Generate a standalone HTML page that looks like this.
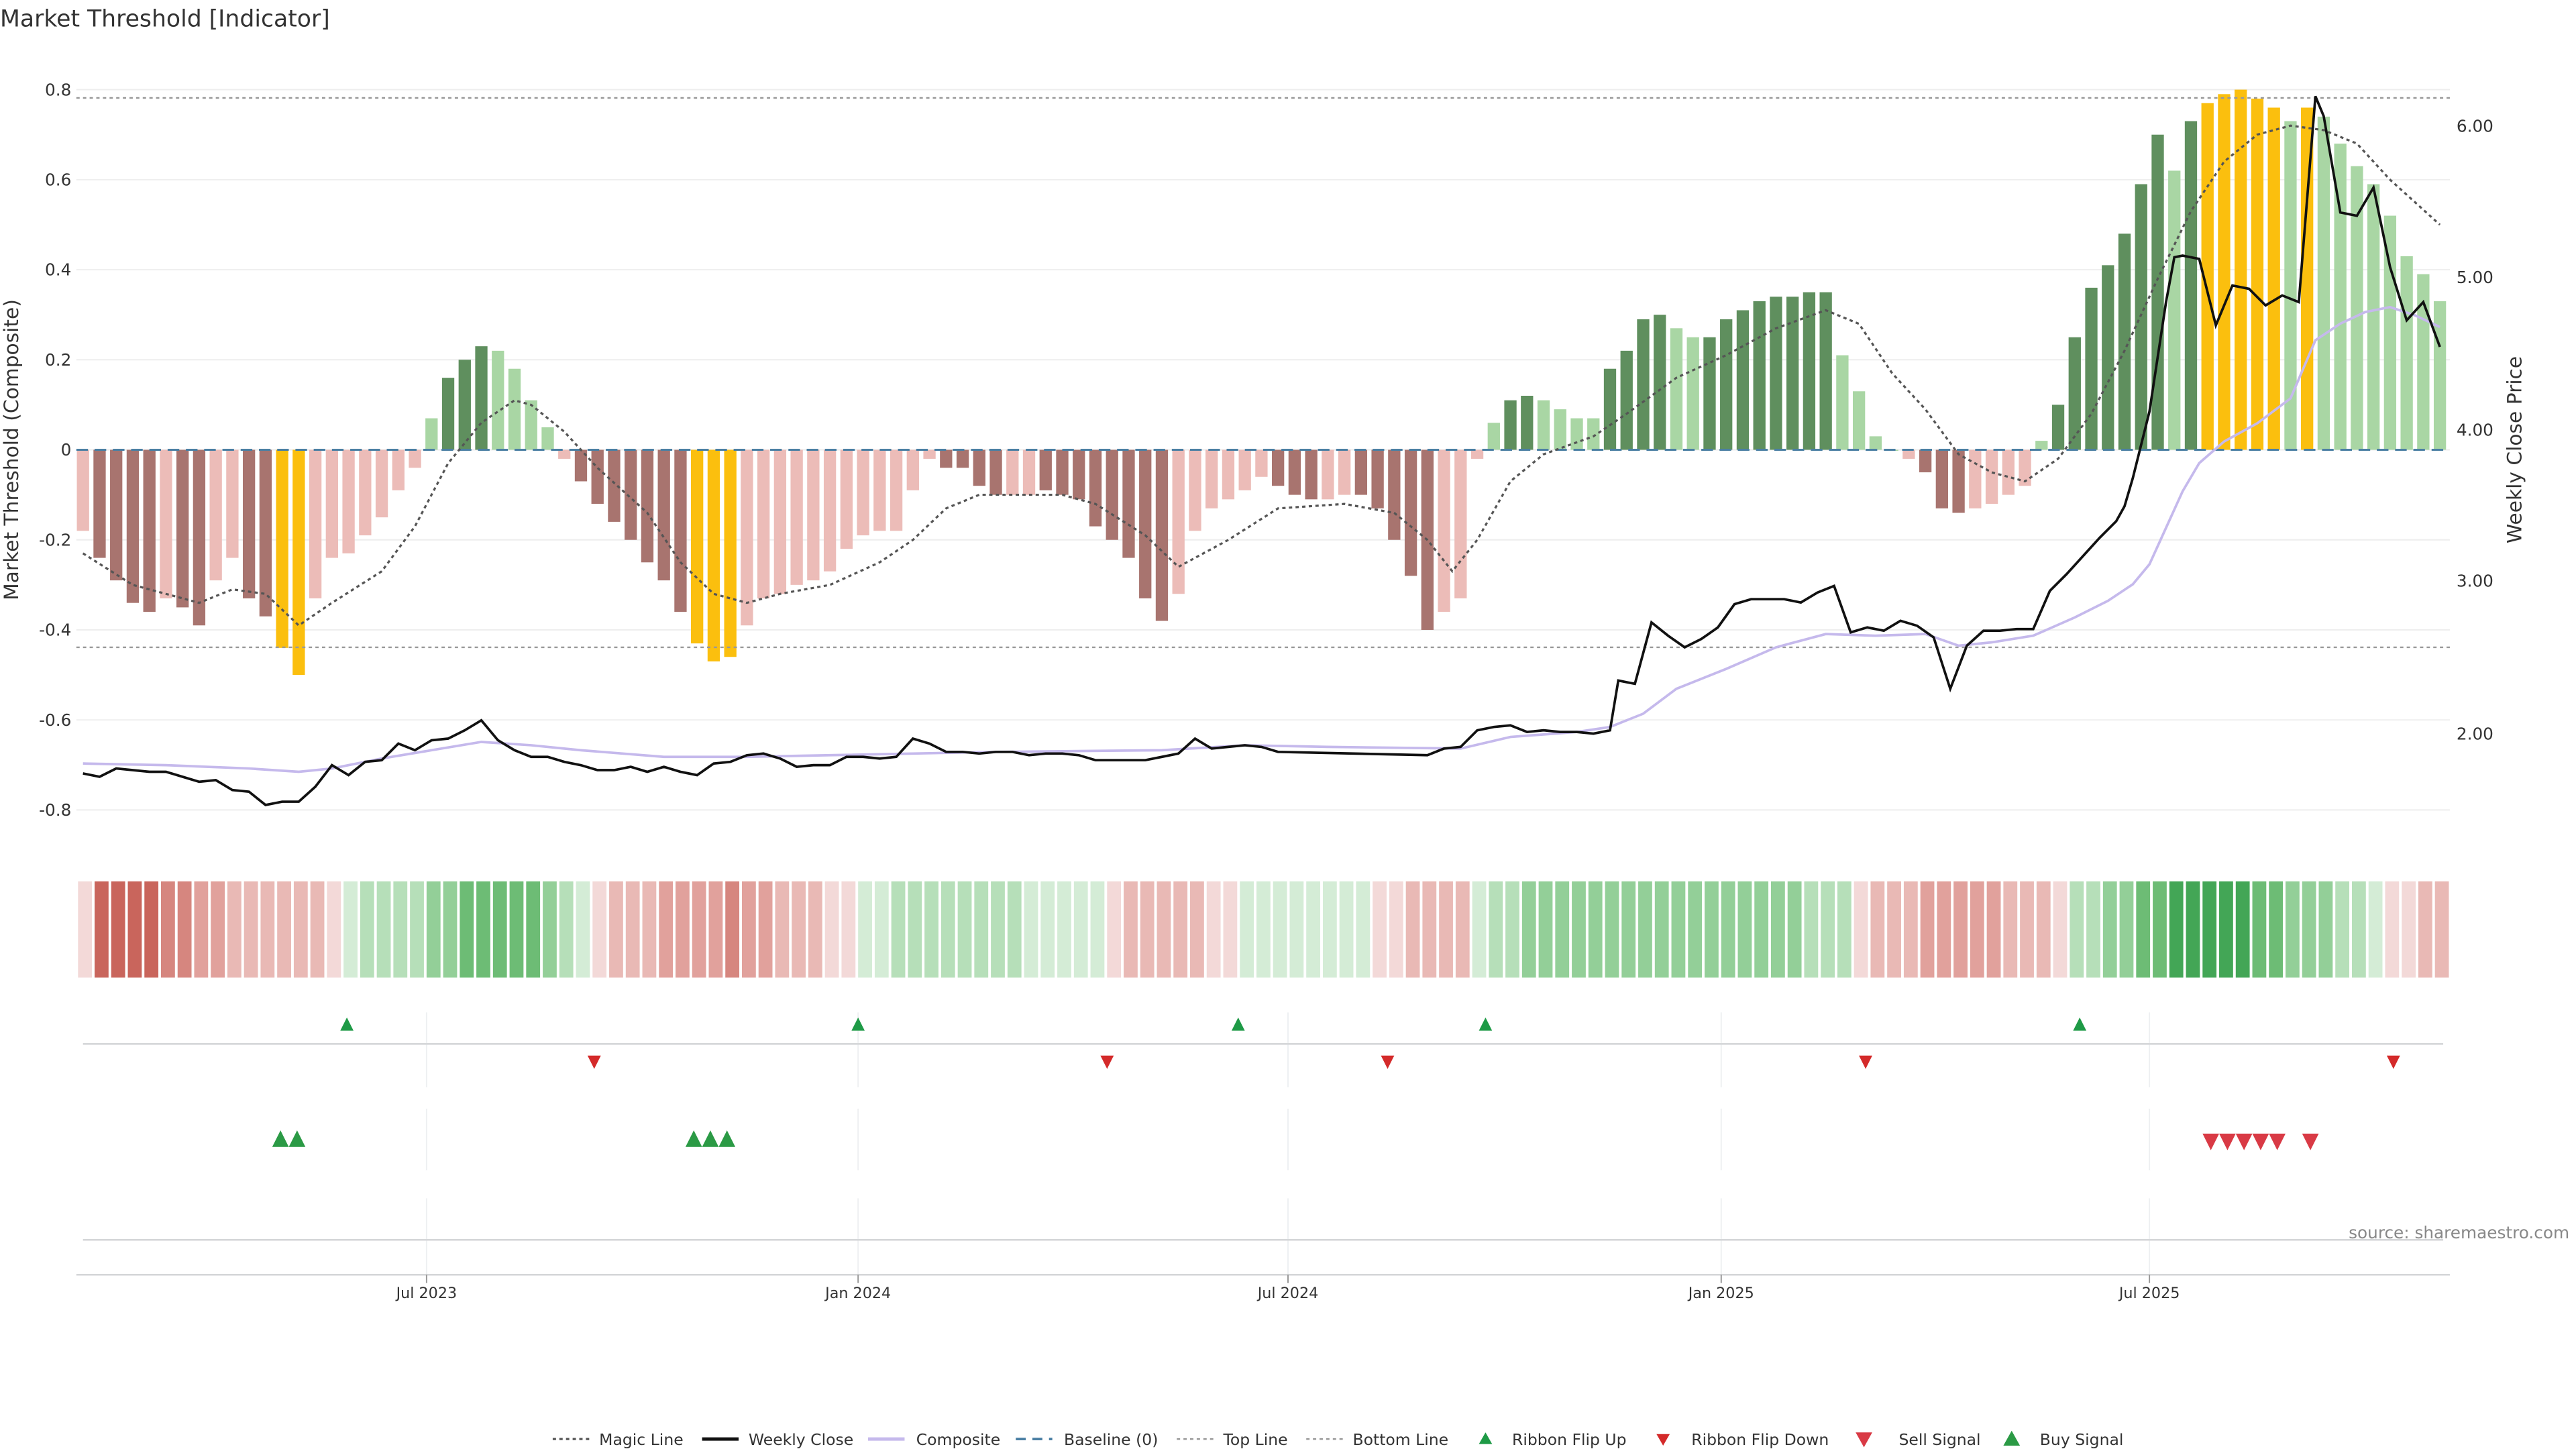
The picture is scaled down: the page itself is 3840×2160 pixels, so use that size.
<!DOCTYPE html>
<html><head><meta charset="utf-8"><style>
html,body{margin:0;padding:0;background:#fff;}
svg{display:block;}
text{font-family:"DejaVu Sans","Liberation Sans",sans-serif;}
</style></head><body>
<svg id="s" xmlns="http://www.w3.org/2000/svg" width="3840" height="2160" viewBox="0 0 1552 873">
<rect width="1552" height="873" fill="#fff"/>
<text x="0" y="16" font-size="14" fill="#333">Market Threshold [Indicator]</text>
<g id="grid"></g>
<g id="bars"></g>
<g id="lines"></g>
<g id="rib"></g>
<g id="sig"></g>
<g id="ax" font-size="10" fill="#333"></g>
<text x="1548" y="746" font-size="10" fill="#888" text-anchor="end">source: sharemaestro.com</text>
<text transform="translate(11,271) rotate(-90)" font-size="12" fill="#333" text-anchor="middle">Market Threshold (Composite)</text>
<text transform="translate(1519,271) rotate(-90)" font-size="12" fill="#333" text-anchor="middle">Weekly Close Price</text>
<g id="leg" font-size="10" fill="#333"></g>
</svg>
<script>
const NS="http://www.w3.org/2000/svg";
function el(p,t,a,txt){const e=document.createElementNS(NS,t);for(const k in a)e.setAttribute(k,a[k]);if(txt!==undefined)e.textContent=txt;document.getElementById(p).appendChild(e);return e;}
const Y=v=>271-v*271.25;
const bars=[[-0.18,'L'],[-0.24,'D'],[-0.29,'D'],[-0.34,'D'],[-0.36,'D'],[-0.33,'L'],[-0.35,'D'],[-0.39,'D'],[-0.29,'L'],[-0.24,'L'],[-0.33,'D'],[-0.37,'D'],[-0.44,'Y'],[-0.50,'Y'],[-0.33,'L'],[-0.24,'L'],[-0.23,'L'],[-0.19,'L'],[-0.15,'L'],[-0.09,'L'],[-0.04,'L'],
[0.07,'L'],[0.16,'D'],[0.20,'D'],[0.23,'D'],[0.22,'L'],[0.18,'L'],[0.11,'L'],[0.05,'L'],
[-0.02,'L'],[-0.07,'D'],[-0.12,'D'],[-0.16,'D'],[-0.20,'D'],[-0.25,'D'],[-0.29,'D'],[-0.36,'D'],[-0.43,'Y'],[-0.47,'Y'],[-0.46,'Y'],[-0.39,'L'],[-0.33,'L'],[-0.32,'L'],[-0.30,'L'],[-0.29,'L'],[-0.27,'L'],[-0.22,'L'],[-0.19,'L'],[-0.18,'L'],[-0.18,'L'],[-0.09,'L'],[-0.02,'L'],[-0.04,'D'],[-0.04,'D'],[-0.08,'D'],[-0.10,'D'],[-0.10,'L'],[-0.10,'L'],[-0.09,'D'],[-0.10,'D'],[-0.11,'D'],[-0.17,'D'],[-0.20,'D'],[-0.24,'D'],[-0.33,'D'],[-0.38,'D'],[-0.32,'L'],[-0.18,'L'],[-0.13,'L'],[-0.11,'L'],[-0.09,'L'],[-0.06,'L'],[-0.08,'D'],[-0.10,'D'],[-0.11,'D'],[-0.11,'L'],[-0.10,'L'],[-0.10,'D'],[-0.13,'D'],[-0.20,'D'],[-0.28,'D'],[-0.40,'D'],[-0.36,'L'],[-0.33,'L'],[-0.02,'L'],
[0.06,'L'],[0.11,'D'],[0.12,'D'],[0.11,'L'],[0.09,'L'],[0.07,'L'],[0.07,'L'],[0.18,'D'],[0.22,'D'],[0.29,'D'],[0.30,'D'],[0.27,'L'],[0.25,'L'],[0.25,'D'],[0.29,'D'],[0.31,'D'],[0.33,'D'],[0.34,'D'],[0.34,'D'],[0.35,'D'],[0.35,'D'],[0.21,'L'],[0.13,'L'],[0.03,'L'],[0.0,'L'],
[-0.02,'L'],[-0.05,'D'],[-0.13,'D'],[-0.14,'D'],[-0.13,'L'],[-0.12,'L'],[-0.10,'L'],[-0.08,'L'],
[0.02,'L'],[0.10,'D'],[0.25,'D'],[0.36,'D'],[0.41,'D'],[0.48,'D'],[0.59,'D'],[0.70,'D'],[0.62,'L'],[0.73,'D'],[0.77,'Y'],[0.79,'Y'],[0.80,'Y'],[0.78,'Y'],[0.76,'Y'],[0.73,'L'],[0.76,'Y'],[0.74,'L'],[0.68,'L'],[0.63,'L'],[0.59,'L'],[0.52,'L'],[0.43,'L'],[0.39,'L'],[0.33,'L']];
for(let v=-0.8;v<=0.81;v+=0.2){el('grid','line',{x1:46,x2:1476,y1:Y(v),y2:Y(v),stroke:'#eeeeee','stroke-width':0.8});
 el('ax','text',{x:43,y:Y(v)+3.5,'text-anchor':'end'},(Math.abs(v)<0.01?'0':v.toFixed(1)));}
const rp=[[6,76,'6.00'],[5,167,'5.00'],[4,259,'4.00'],[3,350,'3.00'],[2,442,'2.00']];
rp.forEach(r=>el('ax','text',{x:1480,y:r[1]+3.5},r[2]));
bars.forEach((b,i)=>{const x=50+10*i,v=b[0];let c;
 if(b[1]=='Y')c='#fbbf0e';else if(v<0)c=b[1]=='D'?'#a8746f':'#ecbcb8';else c=b[1]=='D'?'#5f8f5e':'#a9d6a4';
 const y0=Y(0),y1=Y(v);el('bars','rect',{x:x-3.7,y:Math.min(y0,y1),width:7.4,height:Math.max(0.6,Math.abs(y1-y0)),fill:c});});
el('lines','line',{x1:46,x2:1476,y1:59,y2:59,stroke:'#999','stroke-width':1,'stroke-dasharray':'2,2'});
el('lines','line',{x1:46,x2:1476,y1:390,y2:390,stroke:'#999','stroke-width':1,'stroke-dasharray':'2,2'});
el('lines','line',{x1:46,x2:1476,y1:271,y2:271,stroke:'#4a7fa3','stroke-width':1.2,'stroke-dasharray':'7,4'});
const mg=[[50,-0.23],[80,-0.30],[110,-0.33],[120,-0.34],[140,-0.31],[160,-0.32],[180,-0.39],[200,-0.34],[230,-0.27],[250,-0.17],[270,-0.03],[290,0.06],[310,0.11],[320,0.10],[340,0.04],[360,-0.04],[390,-0.14],[410,-0.25],[430,-0.32],[450,-0.34],[470,-0.32],[500,-0.30],[530,-0.25],[550,-0.20],[570,-0.13],[590,-0.10],[640,-0.10],[660,-0.12],[690,-0.19],[710,-0.26],[740,-0.20],[770,-0.13],[810,-0.12],[840,-0.14],[860,-0.20],[875,-0.27],[890,-0.20],[910,-0.07],[930,-0.01],[960,0.03],[980,0.08],[1010,0.16],[1040,0.21],[1070,0.27],[1100,0.31],[1120,0.28],[1140,0.17],[1160,0.09],[1180,-0.01],[1200,-0.05],[1220,-0.07],[1240,-0.02],[1260,0.08],[1280,0.22],[1300,0.38],[1320,0.53],[1340,0.64],[1360,0.70],[1380,0.72],[1400,0.71],[1420,0.68],[1440,0.60],[1470,0.50]];
el('lines','polyline',{points:mg.map(p=>p[0]+','+Y(p[1]).toFixed(1)).join(' '),fill:'none',stroke:'#555','stroke-width':1.3,'stroke-dasharray':'2,2'});
const cp=[[50,460],[100,461],[150,463],[180,465],[200,463],[230,457],[260,452],[290,447],[320,449],[350,452],[400,456],[450,456],[500,455],[600,453],[700,452],[750,449],[800,450],[880,451],[910,444],[950,441],[970,438],[990,430],[1010,415],[1040,403],[1070,390],[1100,382],[1130,383],[1160,382],[1180,389],[1200,387],[1225,383],[1250,372],[1270,362],[1285,352],[1295,340],[1305,318],[1315,296],[1325,279],[1340,266],[1360,255],[1380,240],[1395,205],[1410,195],[1425,188],[1440,185],[1455,190],[1470,197]];
el('lines','polyline',{points:cp.map(p=>p.join(',')).join(' '),fill:'none',stroke:'#c5b9ec','stroke-width':1.5});
const wc=[[50,466],[60,468],[70,463],[90,465],[100,465],[110,468],[120,471],[130,470],[140,476],[150,477],[160,485],[170,483],[180,483],[190,474],[200,461],[210,467],[220,459],[230,458],[240,448],[250,452],[260,446],[270,445],[280,440],[290,434],[300,446],[310,452],[320,456],[330,456],[340,459],[350,461],[360,464],[370,464],[380,462],[390,465],[400,462],[410,465],[420,467],[430,460],[440,459],[450,455],[460,454],[470,457],[480,462],[490,461],[500,461],[510,456],[520,456],[530,457],[540,456],[550,445],[560,448],[570,453],[580,453],[590,454],[600,453],[610,453],[620,455],[630,454],[640,454],[650,455],[660,458],[670,458],[680,458],[690,458],[700,456],[710,454],[720,445],[730,451],[740,450],[750,449],[760,450],[770,453],[860,455],[870,451],[880,450],[890,440],[900,438],[910,437],[920,441],[930,440],[940,441],[950,441],[960,442],[970,440],[975,410],[980,411],[985,412],[995,375],[1005,383],[1015,390],[1025,385],[1035,378],[1045,364],[1055,361],[1065,361],[1075,361],[1085,363],[1095,357],[1105,353],[1115,381],[1125,378],[1135,380],[1145,374],[1155,377],[1165,384],[1175,415],[1185,389],[1195,380],[1205,380],[1215,379],[1225,379],[1235,356],[1245,346],[1255,335],[1265,324],[1275,314],[1280,305],[1285,288],[1295,248],[1305,182],[1310,155],[1315,154],[1325,156],[1335,196],[1345,172],[1355,174],[1365,184],[1375,178],[1385,182],[1395,58],[1400,70],[1410,128],[1420,130],[1430,113],[1440,161],[1450,193],[1460,182],[1470,209]];
el('lines','polyline',{points:wc.map(p=>p.join(',')).join(' '),fill:'none',stroke:'#111','stroke-width':1.5});
const rib=[-1,-5,-5,-5,-5,-4,-4,-3,-3,-2,-2,-2,-2,-2,-2,-1, 1,2,2,2,2,3,3,4,4,4,4,4,3,2,1, -1,-2,-2,-2,-3,-3,-3,-3,-4,-3,-3,-2,-2,-2,-1,-1, 1,1,2,2,2,2,2,2,2,2,1,1,1,1,1, -1,-2,-2,-2,-2,-2,-1,-1, 1,1,
1,1,1,1,1,1, -1,-1,-2,-2,-2,-2, 1,2,2,3,3,3,3,3,3,3,3,3,3,3,3,3,3,3,3,3,2,2,2, -1,-2,-2,-2,-3,-3,-3,-3,-3,-2,-2,-2,-1, 2,2,3,3,4,4,5,5,5,5,5,4,4,3,3,3,2,2,1, -1,-1,-2,-2];
const R=['#f3d9d8','#e9b9b5','#e1a19c','#d6867f','#c9655c'],G=['#d4ecd6','#b6dfb9','#93cf98','#6dbc75','#43a656'];
rib.forEach((v,i)=>{el('rib','rect',{x:47+10*i,y:531,width:8.4,height:58,fill:v<0?R[-v-1]:G[v-1]});});
[257,517,776,1037,1295].forEach(x=>{el('grid','line',{x1:x,x2:x,y1:610,y2:655,stroke:'#eef0f2','stroke-width':0.8});el('grid','line',{x1:x,x2:x,y1:668,y2:705,stroke:'#eef0f2','stroke-width':0.8});el('grid','line',{x1:x,x2:x,y1:722,y2:768,stroke:'#eef0f2','stroke-width':0.8});
 el('ax','line',{x1:x,x2:x,y1:768,y2:773,stroke:'#999','stroke-width':0.8});});
el('grid','line',{x1:50,x2:1472,y1:629,y2:629,stroke:'#d4d6d8','stroke-width':1});
el('grid','line',{x1:50,x2:1472,y1:747,y2:747,stroke:'#d4d6d8','stroke-width':1});
el('grid','line',{x1:46,x2:1476,y1:768,y2:768,stroke:'#d4d6d8','stroke-width':1});
[['Jul 2023',257],['Jan 2024',517],['Jul 2024',776],['Jan 2025',1037],['Jul 2025',1295]].forEach(t=>el('ax','text',{x:t[1],y:782,'text-anchor':'middle','font-size':9},t[0]));
function up(x,y,s,c){el('sig','polygon',{points:`${x-s},${y+s} ${x+s},${y+s} ${x},${y-s}`,fill:c});}
function dn(x,y,s,c){el('sig','polygon',{points:`${x-s},${y-s} ${x+s},${y-s} ${x},${y+s}`,fill:c});}
[209,517,746,895,1253].forEach(x=>up(x,617,4,'#1e9a46'));
[358,667,836,1124,1442].forEach(x=>dn(x,640,4,'#d42a2a'));
[169,179,418,428,438].forEach(x=>up(x,686,5,'#2b9a45'));
[1332,1342,1352,1362,1372,1392].forEach(x=>dn(x,688,5,'#d93a45'));
const ly=867;
function ln(x,a){el('leg','line',Object.assign({x1:x,x2:x+22,y1:ly,y2:ly},a));}
function tx(x,s){el('leg','text',{x:x,y:ly+3.5,'font-size':9.5},s);}
ln(333,{stroke:'#555','stroke-width':1.3,'stroke-dasharray':'2,2'});tx(361,'Magic Line');
ln(423,{stroke:'#111','stroke-width':2});tx(451,'Weekly Close');
ln(523,{stroke:'#c5b9ec','stroke-width':2});tx(552,'Composite');
ln(612,{stroke:'#4a7fa3','stroke-width':1.5,'stroke-dasharray':'6,4'});tx(641,'Baseline (0)');
ln(709,{stroke:'#999','stroke-width':1,'stroke-dasharray':'2,2'});tx(737,'Top Line');
ln(787,{stroke:'#999','stroke-width':1,'stroke-dasharray':'2,2'});tx(815,'Bottom Line');
el('leg','polygon',{points:`891,${ly+3} 899,${ly+3} 895,${ly-4}`,fill:'#1e9a46'});tx(911,'Ribbon Flip Up');
el('leg','polygon',{points:`998,${ly-3} 1006,${ly-3} 1002,${ly+4}`,fill:'#d42a2a'});tx(1019,'Ribbon Flip Down');
el('leg','polygon',{points:`1118,${ly-4} 1128,${ly-4} 1123,${ly+5}`,fill:'#d93a45'});tx(1144,'Sell Signal');
el('leg','polygon',{points:`1207,${ly+4} 1217,${ly+4} 1212,${ly-5}`,fill:'#2b9a45'});tx(1229,'Buy Signal');
</script>
</body></html>
